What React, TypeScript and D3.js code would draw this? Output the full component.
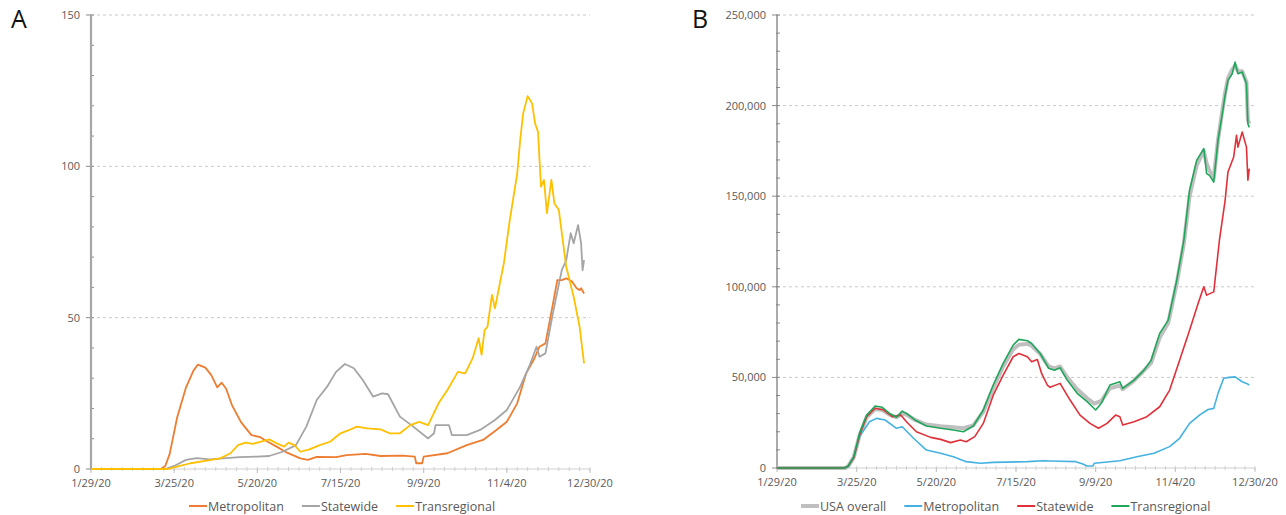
import React from 'react';
import * as d3 from 'd3';

// day offsets counted from 1/29/20
const tickDays = [0, 56, 112, 168, 224, 280, 336];
const tickLabels = ['1/29/20', '3/25/20', '5/20/20', '7/15/20', '9/9/20', '11/4/20', '12/30/20'];

// Panel A
const aMetropolitan: [number, number][] = [
  [0, 0], [47, 0], [50, 1], [53, 5], [58, 17], [64, 27], [69, 32.5], [72, 34.5], [77, 33.5], [81, 31],
  [85, 27], [88, 28.5], [91, 26.5], [95, 21], [101, 15.5], [108, 11.2], [114, 10.5], [119, 9], [125, 7.4],
  [132, 5.4], [141, 3.5], [146, 3], [152, 4], [165, 3.9], [172, 4.6], [185, 5], [195, 4.3], [210, 4.4],
  [218, 4.1], [219, 1.9], [223, 1.9], [224, 4.1], [240, 5.2], [253, 7.9], [264, 9.6], [273, 12.9],
  [280, 15.6], [287, 21.7], [293, 31.6], [298, 36], [302, 40.4], [306, 41.5], [309, 49.2], [314, 62.4],
  [317, 62.4], [320, 63], [324, 61.9], [327, 59.7], [329, 59.1], [330, 59.7], [332, 58],
];
const aStatewide: [number, number][] = [
  [0, 0], [50, 0], [56, 1], [64, 3], [71, 3.6], [80, 3.2], [89, 3.5], [100, 3.9], [112, 4.1], [120, 4.3],
  [129, 5.7], [138, 7.9], [145, 14], [152, 22.8], [159, 27.2], [165, 32.1], [171, 34.7], [177, 33.3],
  [183, 29.4], [190, 23.9], [196, 25], [200, 24.7], [208, 17.3], [217, 14], [227, 10.1], [231, 11.8],
  [232, 14.5], [241, 14.5], [243, 11.2], [253, 11.2], [262, 12.9], [272, 16.2], [280, 19.5], [289, 27.2],
  [295, 33.8], [300, 40.4], [302, 37.1], [306, 38.2], [311, 51.4], [317, 65.7], [320, 69], [323, 77.9],
  [325, 74.6], [328, 80.6], [330, 74.6], [331, 65.7], [332, 69],
];
const aTransregional: [number, number][] = [
  [0, 0], [52, 0], [58, 0.8], [67, 1.9], [78, 2.8], [87, 3.5], [94, 5.2], [99, 7.9], [104, 8.7], [109, 8.3],
  [114, 9], [120, 9.8], [125, 8.5], [130, 7.4], [133, 8.7], [137, 7.9], [141, 5.7], [147, 6.5], [154, 7.9],
  [161, 9], [168, 11.8], [174, 12.9], [179, 14], [186, 13.4], [195, 13.1], [201, 11.8], [208, 11.8],
  [215, 14.5], [221, 15.6], [227, 14.5], [234, 21.7], [240, 26.1], [247, 32.1], [252, 31.6], [257, 36.6],
  [261, 43.2], [263, 37.7], [265, 45.9], [267, 47], [270, 57.5], [272, 53.1], [278, 68], [282, 82.3],
  [287, 97.7], [289, 108.7], [291, 117.5], [294, 123.2], [297, 120.8], [299, 114.2], [301, 111.4],
  [303, 93.3], [305, 95.5], [307, 84.5], [310, 95.5], [312, 87.8], [315, 85.6], [320, 66.8], [325, 56.9],
  [329, 47], [332, 34.9],
];

// Panel B
const bUsaOverall: [number, number][] = [
  [0, 0], [48, 0], [50, 900], [54, 6000], [58, 18000], [63, 28000], [69, 32500], [74, 32000], [79, 29500],
  [84, 28000], [88, 30000], [91, 29500], [97, 26500], [105, 24000], [115, 23000], [124, 22500], [131, 22000],
  [138, 23500], [145, 31000], [152, 44000], [159, 56000], [166, 65500], [170, 68000], [176, 68500],
  [179, 67500], [185, 63000], [191, 56000], [195, 55000], [199, 56000], [204, 50000], [211, 43500],
  [218, 38500], [223, 35500], [228, 37000], [234, 44000], [241, 45500], [243, 43500], [250, 47500],
  [257, 53000], [263, 58000], [269, 72000], [275, 80000], [281, 102000], [286, 124000], [290, 150000],
  [295, 167000], [300, 175000], [302, 168000], [304, 164000], [307, 160000], [310, 181000], [313, 197000],
  [315, 207000], [317, 215000], [320, 220000], [322, 222000], [324, 219000], [327, 219000], [330, 213000],
  [331, 192000], [332, 190000],
];
const bMetropolitan: [number, number][] = [
  [0, 0], [47, 0], [50, 800], [54, 6000], [58, 17300], [65, 25500], [70, 27400], [76, 26500], [84, 21900],
  [88, 22800], [96, 16400], [105, 9900], [115, 8100], [124, 6200], [133, 3500], [143, 2600], [152, 3100],
  [176, 3500], [187, 4000], [199, 3700], [210, 3500], [215, 2200], [218, 1100], [222, 1100], [223, 2600],
  [241, 4000], [253, 6200], [265, 8100], [276, 11800], [283, 16400], [290, 24600], [297, 29200],
  [303, 32300], [307, 32900], [310, 41200], [314, 49500], [318, 50000], [322, 50300], [327, 47600],
  [330, 46700], [332, 45800],
];
const bStatewide: [number, number][] = [
  [0, 0], [47, 0], [50, 900], [54, 5800], [58, 18000], [63, 28300], [69, 33000], [75, 32000], [81, 28300],
  [87, 29200], [91, 25500], [98, 20000], [108, 16900], [115, 15800], [122, 14000], [129, 15400],
  [133, 14500], [139, 17300], [145, 24600], [152, 40200], [159, 51300], [166, 61400], [170, 63200],
  [176, 61400], [179, 58600], [183, 59900], [186, 52200], [190, 45800], [192, 44500], [199, 46700],
  [206, 37500], [213, 29200], [220, 24600], [226, 21900], [232, 24600], [238, 29200], [241, 28300],
  [243, 23700], [251, 25500], [260, 28300], [269, 33800], [276, 43000], [283, 59500], [290, 76000],
  [296, 90800], [300, 100000], [302, 95400], [307, 97200], [311, 125700], [315, 147700], [317, 163400],
  [321, 171600], [323, 183600], [324, 177100], [327, 185400], [330, 177100], [331, 158800], [332, 165200],
];
const bTransregional: [number, number][] = [
  [0, 0], [47, 0], [50, 1000], [54, 6200], [58, 19100], [63, 29200], [69, 34200], [74, 33500], [79, 30100],
  [84, 28000], [88, 31400], [91, 30100], [97, 26500], [105, 23200], [115, 21900], [124, 21000], [131, 20000],
  [138, 23200], [145, 32000], [152, 45800], [159, 57700], [166, 67800], [170, 71000], [176, 70200],
  [179, 68700], [185, 63200], [191, 55000], [195, 54000], [199, 55300], [204, 48500], [211, 41200],
  [218, 36600], [224, 32000], [228, 35700], [234, 45800], [241, 47600], [243, 43900], [251, 48500],
  [258, 54000], [263, 59500], [269, 74300], [275, 81600], [281, 103600], [286, 125700], [290, 153300],
  [295, 169800], [300, 176300], [302, 162500], [304, 161500], [307, 157800], [310, 180800], [313, 195500],
  [315, 205600], [317, 213900], [320, 217600], [322, 224000], [324, 217600], [327, 218500], [330, 212000],
  [331, 190000], [332, 188000],
];

const FONT = "'Open Sans', sans-serif";
const TXT = '#595959';
const LEGEND_FONT = 12.5;

let measureCtx: CanvasRenderingContext2D | null = null;
const textWidth = (s: string, size: number) => {
  if (!measureCtx) measureCtx = document.createElement('canvas').getContext('2d');
  if (!measureCtx) return s.length * size * 0.53;
  measureCtx.font = `${size}px 'Open Sans'`;
  return measureCtx.measureText(s).width;
};

type Series = { name: string; data: [number, number][]; color: string; width: number };

type PanelProps = {
  letter: string;
  letterX: number;
  left: number;
  right: number;
  top: number;
  bottom: number;
  yMax: number;
  yMajor: number;
  yMinor: number;
  yFormat: (v: number) => string;
  series: Series[];
  legendX: number;
  axisColor: string;
  axisWidth: number;
};

const Panel = (p: PanelProps) => {
  const x = d3.scaleLinear().domain([0, 336]).range([p.left, p.right]);
  const y = d3.scaleLinear().domain([0, p.yMax]).range([p.bottom, p.top]);
  const line = d3
    .line<[number, number]>()
    .x((d) => x(d[0]))
    .y((d) => y(d[1]));

  const majors = d3.range(0, p.yMax + 1, p.yMajor);
  const minors = d3.range(0, p.yMax + 1, p.yMinor);
  const weeks = d3.range(0, 337, 7);

  // legend layout
  let lx = p.legendX;
  const legend = p.series.map((s) => {
    const item = { s, x: lx };
    lx += 19 + textWidth(s.name, LEGEND_FONT) + 18;
    return item;
  });

  return (
    <g>
      <text x={p.letterX} y={28} fontSize={25} fontFamily={FONT} fill="#111">
        {p.letter}
      </text>
      {majors
        .filter((v) => v > 0)
        .map((v) => (
          <line key={'g' + v} x1={p.left} x2={p.right} y1={y(v)} y2={y(v)} stroke="#C8C8C8" strokeDasharray="3,3" />
        ))}
      {/* x axis */}
      <line x1={p.left} x2={p.right} y1={p.bottom} y2={p.bottom} stroke="#D0D0D0" />
      {weeks.map((d) => (
        <line key={'w' + d} x1={x(d)} x2={x(d)} y1={p.bottom - 2} y2={p.bottom + 2} stroke="#D0D0D0" />
      ))}
      {tickDays.map((d, i) => (
        <g key={'t' + d}>
          <line x1={x(d)} x2={x(d)} y1={p.bottom} y2={p.bottom + 4} stroke="#BFBFBF" />
          <text x={x(d)} y={p.bottom + 18} fontSize={11} textAnchor="middle" fontFamily={FONT} fill={TXT}>
            {tickLabels[i]}
          </text>
        </g>
      ))}
      {/* y axis */}
      {minors.map((v) => (
        <line key={'m' + v} x1={p.left - 1} x2={p.left + 3} y1={y(v)} y2={y(v)} stroke="#8C8C8C" />
      ))}
      {majors.map((v) => (
        <g key={'y' + v}>
          <line x1={p.left - 5} x2={p.left} y1={y(v)} y2={y(v)} stroke="#8C8C8C" />
          <text x={p.left - 11} y={y(v) + 4} fontSize={11} textAnchor="end" fontFamily={FONT} fill={TXT}>
            {p.yFormat(v)}
          </text>
        </g>
      ))}
      <line x1={p.left} x2={p.left} y1={p.top} y2={p.bottom} stroke={p.axisColor} strokeWidth={p.axisWidth} />
      {p.series.map((s) => (
        <path
          key={s.name}
          d={line(s.data) || ''}
          fill="none"
          stroke={s.color}
          strokeWidth={s.width}
          strokeLinejoin="round"
        />
      ))}
      {legend.map(({ s, x: ix }) => (
        <g key={'l' + s.name}>
          <line x1={ix} x2={ix + 18} y1={506} y2={506} stroke={s.color} strokeWidth={Math.max(2, s.width)} />
          <text x={ix + 19} y={510.5} fontSize={LEGEND_FONT} fontFamily={FONT} fill={TXT}>
            {s.name}
          </text>
        </g>
      ))}
    </g>
  );
};

export default function App() {
  const fmt = d3.format(',');
  return (
    <svg width={1286} height={515} style={{ position: 'absolute', left: 0, top: 0, background: '#fff' }}>
      <Panel
        letter="A"
        letterX={11}
        left={91}
        right={590}
        top={15}
        bottom={469}
        yMax={150}
        yMajor={50}
        yMinor={10}
        yFormat={(v) => String(v)}
        axisColor="#A6A6A6"
        axisWidth={2.2}
        legendX={189}
        series={[
          { name: 'Metropolitan', data: aMetropolitan, color: '#ED7D31', width: 1.8 },
          { name: 'Statewide', data: aStatewide, color: '#A5A5A5', width: 1.8 },
          { name: 'Transregional', data: aTransregional, color: '#FFC000', width: 1.8 },
        ]}
      />
      <Panel
        letter="B"
        letterX={692}
        left={777}
        right={1255}
        top={15}
        bottom={468}
        yMax={250000}
        yMajor={50000}
        yMinor={10000}
        yFormat={(v) => fmt(v)}
        axisColor="#7F7F7F"
        axisWidth={1.3}
        legendX={801}
        series={[
          { name: 'USA overall', data: bUsaOverall, color: '#BFBFBF', width: 4 },
          { name: 'Metropolitan', data: bMetropolitan, color: '#45B1E0', width: 1.6 },
          { name: 'Statewide', data: bStatewide, color: '#E0313A', width: 1.6 },
          { name: 'Transregional', data: bTransregional, color: '#20A65A', width: 1.6 },
        ]}
      />
    </svg>
  );
}
